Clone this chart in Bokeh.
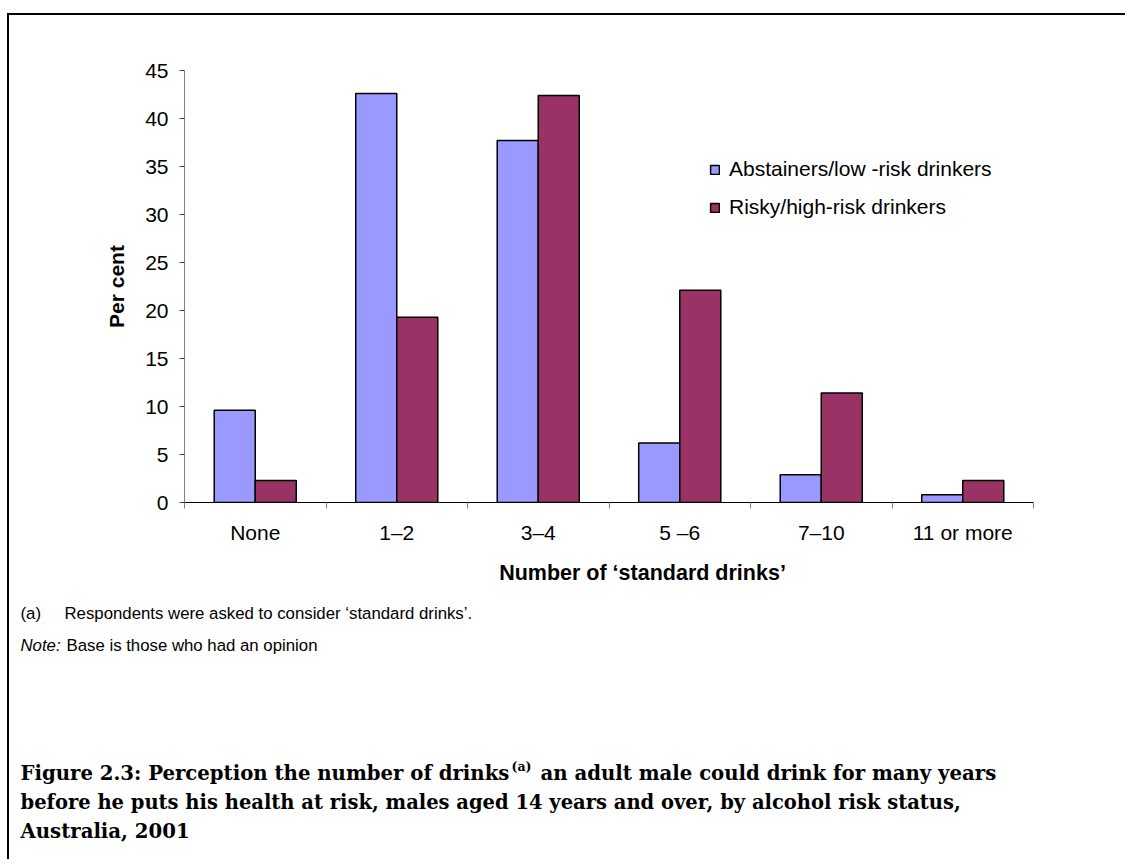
from bokeh.plotting import figure
from bokeh.models import Range1d, FixedTicker, Label, Legend, LegendItem, ColumnDataSource
from bokeh.embed import file_html
from bokeh.resources import INLINE

categories = ["None", "1–2", "3–4", "5 –6", "7–10", "11 or more"]
abstainers = [9.6, 42.6, 37.7, 6.2, 2.9, 0.8]
risky = [2.3, 19.3, 42.4, 22.1, 11.4, 2.3]
y_ticks = [0, 5, 10, 15, 20, 25, 30, 35, 40, 45]
series_names = ["Abstainers/low -risk drinkers", "Risky/high-risk drinkers"]
colors = ["#9999FF", "#993366"]

OX, OY = 9, 15                      # canvas offset on the page (border sits just outside)
W, H = 1124, 846
FL, FR, FT, FB = 184 - OX, 1033 - OX, 70 - OY, 502 - OY   # frame edges on canvas
n = len(categories)

p = figure(width=W, height=H, output_backend="svg", toolbar_location=None,
           x_range=Range1d(0, n), y_range=Range1d(0, 45),
           min_border_left=FL, min_border_right=W - FR,
           min_border_top=FT, min_border_bottom=H - FB)
p.styles = {"margin-left": f"{OX}px", "margin-top": f"{OY}px",
            "box-shadow": "-2px -2px 0 0 black",
            "clip-path": "inset(-2px 8px 0px -2px)"}
p.xgrid.visible = False
p.ygrid.visible = False
p.outline_line_color = None
p.background_fill_color = "white"
p.border_fill_color = "white"

# helpers: page pixel -> data units (for text placement only)
def dx(px):
    return (px - OX - FL) * n / (FR - FL)

def dy(py):
    return (FB - (py - OY)) * 45 / (FB - FT)

src = ColumnDataSource(dict(
    xa=[i + 0.355 for i in range(n)], xb=[i + 0.645 for i in range(n)],
    a=abstainers, b=risky))
ra = p.vbar(x="xa", top="a", width=0.29, source=src, fill_color=colors[0],
            line_color="black", line_width=1.5)
rb = p.vbar(x="xb", top="b", width=0.29, source=src, fill_color=colors[1],
            line_color="black", line_width=1.5)

# y axis
ya = p.yaxis[0]
ya.ticker = FixedTicker(ticks=y_ticks)
ya.axis_line_color = "#808080"
ya.major_tick_line_color = "#404040"
ya.major_tick_in = 0
ya.major_tick_out = 5
ya.minor_tick_line_color = None
ya.major_label_text_font = "Liberation Sans"
ya.major_label_text_font_size = "21px"
ya.major_label_text_color = "black"
ya.major_label_standoff = 11
ya.axis_label = "Per cent"
ya.axis_label_text_font = "Liberation Sans"
ya.axis_label_text_font_style = "bold"
ya.axis_label_text_font_size = "21px"
ya.axis_label_text_color = "black"
ya.axis_label_standoff = 14

# x axis: labels at category centres, ticks at category boundaries
xa = p.xaxis[0]
centers = [i + 0.5 for i in range(n)]
xa.ticker = FixedTicker(ticks=centers, minor_ticks=list(range(n + 1)))
xa.major_label_overrides = {c: lab for c, lab in zip(centers, categories)}
xa.axis_line_color = "black"
xa.axis_line_width = 1.2
xa.major_tick_in = 0
xa.major_tick_out = 0
xa.minor_tick_in = 0
xa.minor_tick_out = 6
xa.minor_tick_line_color = "#808080"
xa.major_label_text_font = "Liberation Sans"
xa.major_label_text_font_size = "21px"
xa.major_label_text_color = "black"
xa.major_label_standoff = 12

# legend
legend = Legend(items=[LegendItem(label=series_names[0], renderers=[ra]),
                       LegendItem(label=series_names[1], renderers=[rb])],
                location=(525, 283), padding=0, margin=0, spacing=14,
                glyph_width=11, glyph_height=11, label_height=24,
                label_standoff=9, border_line_color=None,
                background_fill_alpha=0,
                label_text_font="Liberation Sans", label_text_font_size="21px",
                label_text_color="black")
p.add_layout(legend)

def add_text(txt, px, py, size, font="Liberation Sans", style="normal", align="left"):
    p.add_layout(Label(x=dx(px), y=dy(py), text=txt, text_font=font,
                       text_font_size=size, text_font_style=style,
                       text_align=align, text_baseline="middle", text_color="black"),
                 "below")

add_text("Number of ‘standard drinks’", 642, 572, "21.5px", style="bold", align="center")
add_text("(a)", 20, 613, "16.8px")
add_text("Respondents were asked to consider ‘standard drinks’.", 64, 613, "16.8px")
add_text("Note:", 20, 645, "16.8px", style="italic")
add_text("Base is those who had an opinion", 66, 645, "16.8px")

TF = "DejaVu Serif"
add_text("Figure 2.3: Perception the number of drinks", 20, 773, "19.7px", font=TF, style="bold")
add_text("(a)", 511, 766, "12.5px", font=TF, style="bold")
add_text("an adult male could drink for many years", 540, 773, "19.7px", font=TF, style="bold")
add_text("before he puts his health at risk, males aged 14 years and over, by alcohol risk status,", 20, 802, "19.5px", font=TF, style="bold")
add_text("Australia, 2001", 20, 831, "19.7px", font=TF, style="bold")

open("out.html", "w").write(file_html(p, INLINE))
